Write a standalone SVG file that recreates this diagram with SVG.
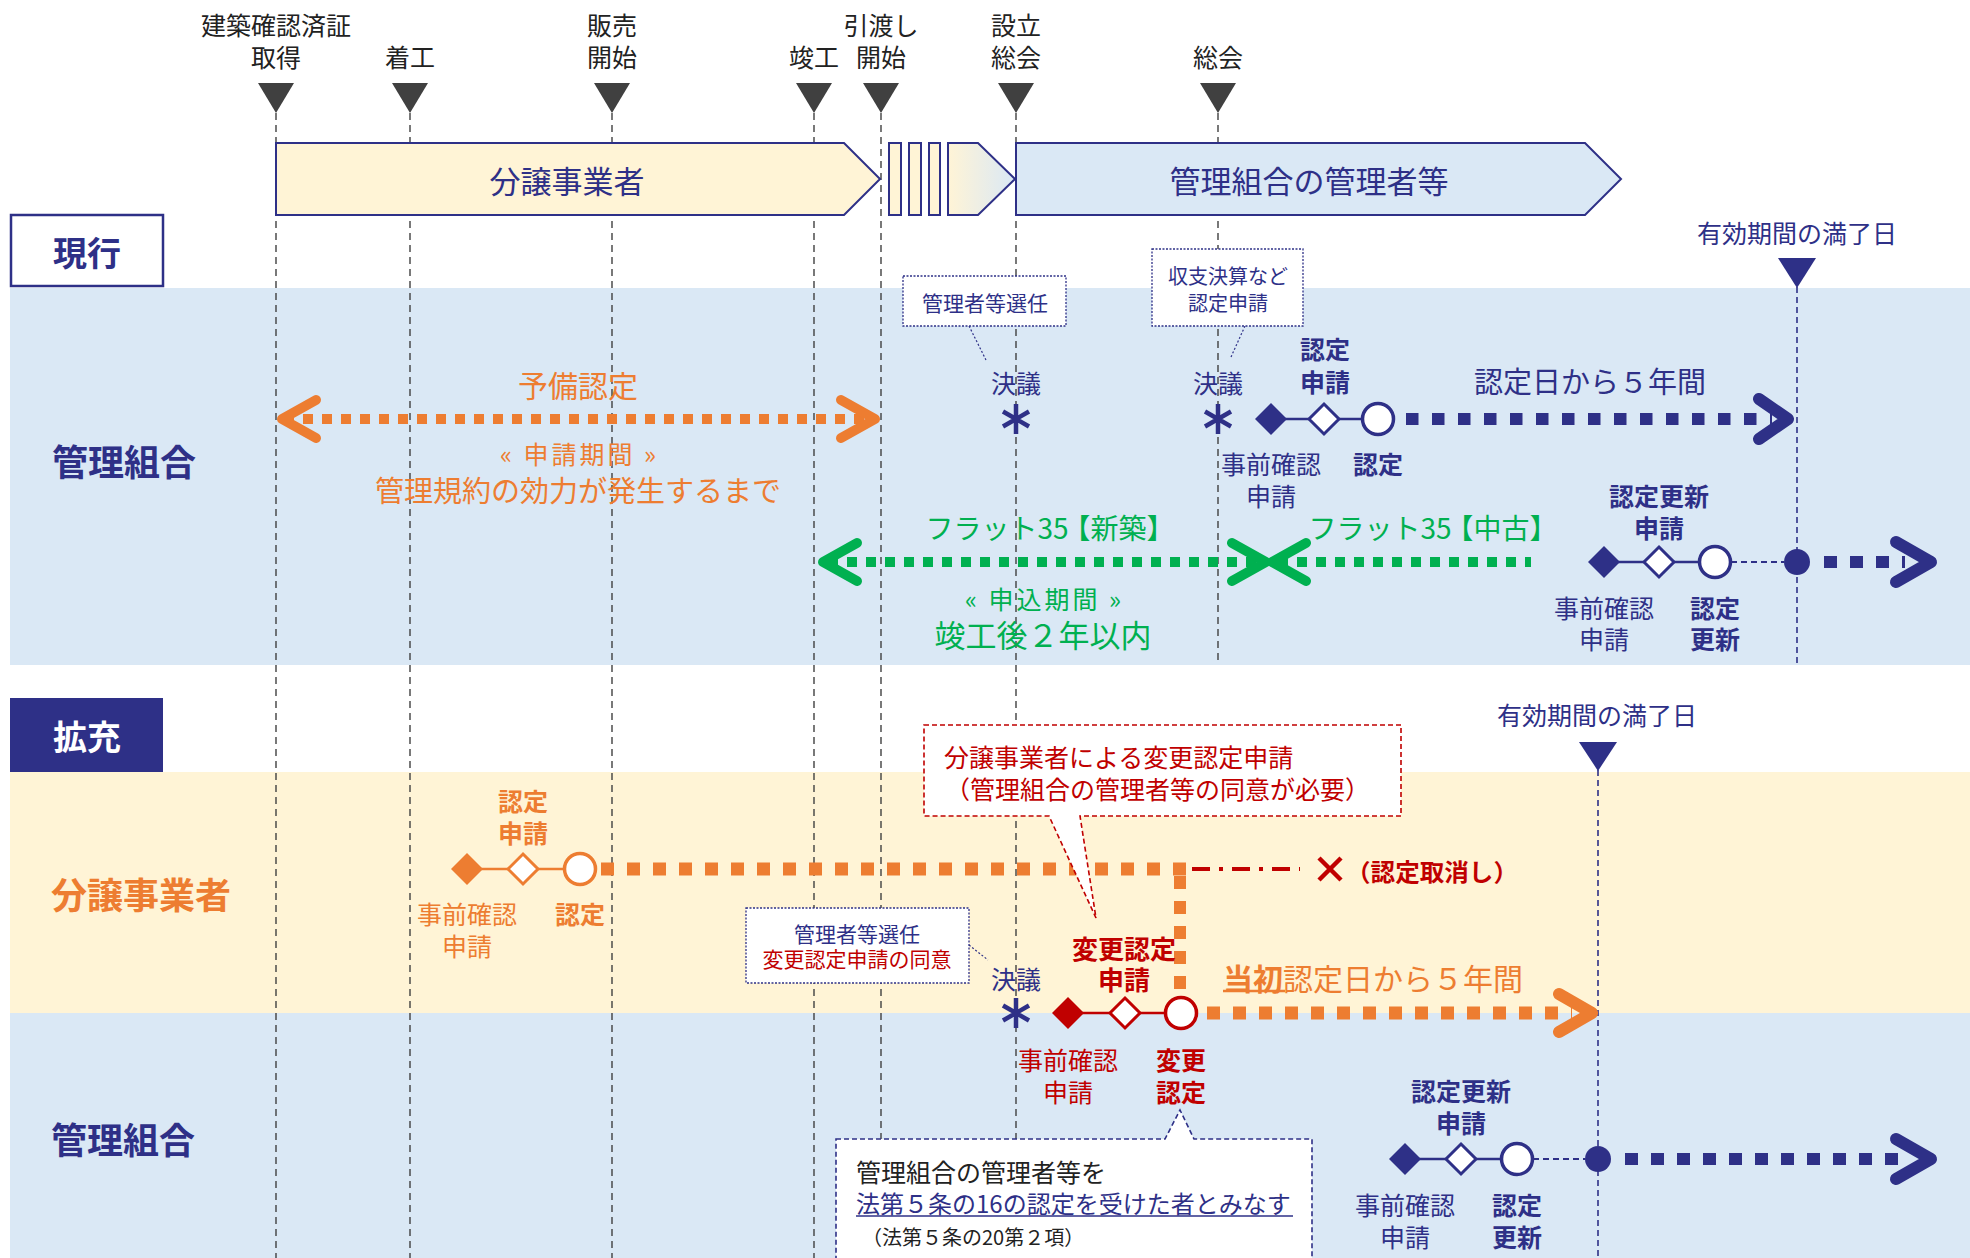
<svg xmlns="http://www.w3.org/2000/svg" width="1970" height="1258" viewBox="0 0 1970 1258">
<defs>
<linearGradient id="fade" x1="0" y1="0" x2="1" y2="0">
<stop offset="0" stop-color="#FFF4D6"/>
<stop offset="1" stop-color="#DAE8F5"/>
</linearGradient>
<style>
text{font-family:"Noto Sans CJK JP","Noto Sans",sans-serif;dominant-baseline:central;text-anchor:middle}
.b{font-weight:bold}
.k{fill:#222222}
.n{fill:#2E3087}
.o{fill:#ED7D31}
.g{fill:#00B050}
.r{fill:#C00000}
.w{fill:#FFFFFF}
.s{text-anchor:start}
.vl{stroke:#404040;stroke-width:1.4;stroke-dasharray:7 5;fill:none}
.nl{stroke:#2E3087;stroke-width:1.6;stroke-dasharray:6 4;fill:none}
.tri{fill:#404040}
.ntri{fill:#2E3087}
.chev{fill:none;stroke-linecap:round;stroke-linejoin:round}
.ast{stroke:#2E3087;stroke-width:4.5;stroke-linecap:butt}
.dotbox{fill:#FFFFFF;stroke:#2E3087;stroke-width:1.3;stroke-dasharray:2 1.5}
.lead{stroke:#2E3087;stroke-width:1.2;stroke-dasharray:2 2;fill:none}
</style>
</defs>

<!-- backgrounds -->
<g id="bands">
<rect x="10" y="288" width="1960" height="377" fill="#DAE8F5"/>
<rect x="10" y="772" width="1960" height="241" fill="#FFF4D6"/>
<rect x="10" y="1013" width="1960" height="245" fill="#DAE8F5"/>
</g>

<!-- milestone guides -->
<g id="milestones">
<line class="vl" x1="276" y1="113" x2="276" y2="1258"/>
<line class="vl" x1="410" y1="113" x2="410" y2="1258"/>
<line class="vl" x1="612" y1="113" x2="612" y2="1258"/>
<line class="vl" x1="814" y1="113" x2="814" y2="1258"/>
<line class="vl" x1="881" y1="113" x2="881" y2="1258"/>
<line class="vl" x1="1016" y1="113" x2="1016" y2="1258"/>
<line class="vl" x1="1218" y1="113" x2="1218" y2="665"/>
<polygon class="tri" points="258,83 294,83 276,113"/>
<polygon class="tri" points="392,83 428,83 410,113"/>
<polygon class="tri" points="594,83 630,83 612,113"/>
<polygon class="tri" points="796,83 832,83 814,113"/>
<polygon class="tri" points="863,83 899,83 881,113"/>
<polygon class="tri" points="998,83 1034,83 1016,113"/>
<polygon class="tri" points="1200,83 1236,83 1218,113"/>
<text class="k" x="276" y="24" font-size="25">建築確認済証</text>
<text class="k" x="276" y="56" font-size="25">取得</text>
<text class="k" x="410" y="56" font-size="25">着工</text>
<text class="k" x="612" y="24" font-size="25">販売</text>
<text class="k" x="612" y="56" font-size="25">開始</text>
<text class="k" x="814" y="56" font-size="25">竣工</text>
<text class="k" x="881" y="24" font-size="25">引渡し</text>
<text class="k" x="881" y="56" font-size="25">開始</text>
<text class="k" x="1016" y="24" font-size="25">設立</text>
<text class="k" x="1016" y="56" font-size="25">総会</text>
<text class="k" x="1218" y="56" font-size="25">総会</text>
</g>

<!-- expiry markers -->
<g id="expiry1">
<line class="nl" x1="1797" y1="287" x2="1797" y2="665"/>
<polygon class="ntri" points="1778,258 1816,258 1797,288"/>
<text class="n" x="1797" y="232" font-size="25">有効期間の満了日</text>
</g>
<g id="expiry2">
<line class="nl" x1="1598" y1="770" x2="1598" y2="1258"/>
<polygon class="ntri" points="1579,742 1617,742 1598,771"/>
<text class="n" x="1597" y="714" font-size="25">有効期間の満了日</text>
</g>

<!-- top phase bar -->
<g id="phase-developer">
<polygon points="276,143 844,143 880,179 844,215 276,215" fill="#FFF4D6" stroke="#2E3087" stroke-width="2"/>
<text class="n" x="567" y="179" font-size="31">分譲事業者</text>
</g>
<g id="phase-transition">
<rect x="889" y="143" width="12" height="72" fill="#FFF4D6" stroke="#2E3087" stroke-width="2"/>
<rect x="909" y="143" width="12" height="72" fill="#FFF4D6" stroke="#2E3087" stroke-width="2"/>
<rect x="929" y="143" width="11" height="72" fill="#FFF4D6" stroke="#2E3087" stroke-width="2"/>
<polygon points="948,143 978,143 1015,179 978,215 948,215" fill="url(#fade)" stroke="#2E3087" stroke-width="2"/>
</g>
<g id="phase-association">
<polygon points="1016,143 1585,143 1621,179 1585,215 1016,215" fill="#DAE8F5" stroke="#2E3087" stroke-width="2"/>
<text class="n" x="1309" y="179" font-size="31">管理組合の管理者等</text>
</g>

<!-- section labels -->
<g id="label-current">
<rect x="11" y="215" width="152" height="71" fill="#FFFFFF" stroke="#2E3087" stroke-width="2.5"/>
<text class="n b" x="87" y="251" font-size="34">現行</text>
</g>
<g id="label-expansion">
<rect x="10" y="698" width="153" height="74" fill="#2E3087"/>
<text class="w b" x="87" y="735" font-size="34">拡充</text>
</g>
<g id="row-labels">
<text class="n b" x="124" y="460" font-size="36">管理組合</text>
<text class="o b" x="141" y="893" font-size="36">分譲事業者</text>
<text class="n b" x="123" y="1138" font-size="36">管理組合</text>
</g>

<!-- connectors -->
<g id="connectors">
<line x1="284" y1="419" x2="870" y2="419" stroke="#ED7D31" stroke-width="10" stroke-dasharray="10 9"/>
<polyline class="chev" points="316,400 282,419 316,438" stroke="#ED7D31" stroke-width="10"/>
<polyline class="chev" points="841,400 875,419 841,438" stroke="#ED7D31" stroke-width="10"/>
<line x1="828" y1="562" x2="1262" y2="562" stroke="#00B050" stroke-width="10" stroke-dasharray="10 9"/>
<line x1="1278" y1="562" x2="1531" y2="562" stroke="#00B050" stroke-width="10" stroke-dasharray="10 9"/>
<polyline class="chev" points="857,543 823,562 857,581" stroke="#00B050" stroke-width="10"/>
<polyline class="chev" points="1232,543 1266,562 1232,581" stroke="#00B050" stroke-width="10"/>
<polyline class="chev" points="1306,543 1272,562 1306,581" stroke="#00B050" stroke-width="10"/>
<line x1="1406" y1="419" x2="1772" y2="419" stroke="#2E3087" stroke-width="12" stroke-dasharray="12.5 13.5"/>
<polyline class="chev" points="1759,399 1788,419 1759,439" stroke="#2E3087" stroke-width="12"/>
<line x1="1731" y1="562" x2="1784" y2="562" stroke="#2E3087" stroke-width="2" stroke-dasharray="6 4"/>
<line x1="1824" y1="562" x2="1905" y2="562" stroke="#2E3087" stroke-width="12" stroke-dasharray="13 13"/>
<polyline class="chev" points="1896,542 1931,562 1896,582" stroke="#2E3087" stroke-width="12"/>
<line x1="601" y1="869" x2="1187" y2="869" stroke="#ED7D31" stroke-width="13" stroke-dasharray="13 13"/>
<line x1="1180" y1="876" x2="1180" y2="997" stroke="#ED7D31" stroke-width="12" stroke-dasharray="13 12"/>
<line x1="1192" y1="869" x2="1300" y2="869" stroke="#C00000" stroke-width="4" stroke-dasharray="18 9 4 9"/>
<path d="M1319,858 L1341,880 M1341,858 L1319,880" stroke="#C00000" stroke-width="4.5"/>
<line x1="1207" y1="1013" x2="1572" y2="1013" stroke="#ED7D31" stroke-width="13" stroke-dasharray="13 13"/>
<polyline class="chev" points="1559,994 1592,1013 1559,1032" stroke="#ED7D31" stroke-width="12"/>
<line x1="1533" y1="1159" x2="1585" y2="1159" stroke="#2E3087" stroke-width="2" stroke-dasharray="6 4"/>
<line x1="1625" y1="1159" x2="1905" y2="1159" stroke="#2E3087" stroke-width="12" stroke-dasharray="13 13"/>
<polyline class="chev" points="1896,1139 1931,1159 1896,1179" stroke="#2E3087" stroke-width="12"/>
<line class="lead" x1="969" y1="326" x2="986" y2="360"/>
<line class="lead" x1="1245" y1="326" x2="1231" y2="357"/>
<line class="lead" x1="969" y1="945" x2="988" y2="960"/>
</g>

<!-- current period texts -->
<g id="preliminary">
<text class="o" x="578" y="384" font-size="30">予備認定</text>
<text class="o" x="578" y="453" font-size="25" textLength="156" lengthAdjust="spacing">« 申請期間 »</text>
<text class="o" x="578" y="489" font-size="29">管理規約の効力が発生するまで</text>
</g>
<g id="flat35">
<text class="g" x="1050" y="527" font-size="28">フラット35<tspan dx="-6">【新築】</tspan></text>
<text class="g" x="1433" y="527" font-size="28">フラット35<tspan dx="-6">【中古】</tspan></text>
<text class="g" x="1043" y="598" font-size="25" textLength="156" lengthAdjust="spacing">« 申込期間 »</text>
<text class="g" x="1043" y="633" font-size="31">竣工後２年以内</text>
</g>

<!-- resolutions -->
<g id="resolution1">
<rect class="dotbox" x="903" y="276" width="163" height="50"/>
<text class="n" x="985" y="302" font-size="21">管理者等選任</text>
<text class="n" x="1016" y="382" font-size="25">決議</text>
<path class="ast" d="M1016,404 V434 M1003,411.5 L1029,426.5 M1029,411.5 L1003,426.5"/>
</g>
<g id="resolution2">
<rect class="dotbox" x="1152" y="249" width="151" height="77"/>
<text class="n" x="1228" y="275" font-size="20">収支決算など</text>
<text class="n" x="1228" y="302" font-size="20">認定申請</text>
<text class="n" x="1218" y="382" font-size="25">決議</text>
<path class="ast" d="M1218,404 V434 M1205,411.5 L1231,426.5 M1231,411.5 L1205,426.5"/>
</g>

<!-- current certification chain -->
<g id="cert-current">
<line x1="1271" y1="419" x2="1362" y2="419" stroke="#2E3087" stroke-width="2.5"/>
<polygon points="1271,403 1287,419 1271,435 1255,419" fill="#2E3087"/>
<polygon points="1324,404 1339,419 1324,434 1309,419" fill="#FFFFFF" stroke="#2E3087" stroke-width="3"/>
<circle cx="1378" cy="419" r="15.5" fill="#FFFFFF" stroke="#2E3087" stroke-width="3.5"/>
<text class="n b" x="1325" y="348" font-size="25">認定</text>
<text class="n b" x="1325" y="381" font-size="25">申請</text>
<text class="n" x="1271" y="463" font-size="25">事前確認</text>
<text class="n" x="1271" y="495" font-size="25">申請</text>
<text class="n b" x="1378" y="463" font-size="25">認定</text>
<text class="n" x="1590" y="380" font-size="29">認定日から５年間</text>
</g>

<!-- current renewal chain -->
<g id="renewal-current">
<line x1="1604" y1="562" x2="1700" y2="562" stroke="#2E3087" stroke-width="2.5"/>
<polygon points="1604,546 1620,562 1604,578 1588,562" fill="#2E3087"/>
<polygon points="1659,547 1674,562 1659,577 1644,562" fill="#FFFFFF" stroke="#2E3087" stroke-width="3"/>
<circle cx="1715" cy="562" r="15.5" fill="#FFFFFF" stroke="#2E3087" stroke-width="3.5"/>
<circle cx="1797" cy="562" r="13" fill="#2E3087"/>
<text class="n b" x="1659" y="495" font-size="25">認定更新</text>
<text class="n b" x="1659" y="527" font-size="25">申請</text>
<text class="n" x="1604" y="607" font-size="25">事前確認</text>
<text class="n" x="1604" y="638" font-size="25">申請</text>
<text class="n b" x="1715" y="607" font-size="25">認定</text>
<text class="n b" x="1715" y="638" font-size="25">更新</text>
</g>

<!-- expansion: developer chain -->
<g id="cert-developer">
<line x1="467" y1="869" x2="565" y2="869" stroke="#ED7D31" stroke-width="2.5"/>
<polygon points="467,853 483,869 467,885 451,869" fill="#ED7D31"/>
<polygon points="523,854 538,869 523,884 508,869" fill="#FFFFFF" stroke="#ED7D31" stroke-width="3"/>
<circle cx="580" cy="869" r="15.5" fill="#FFFFFF" stroke="#ED7D31" stroke-width="3.5"/>
<text class="o b" x="523" y="800" font-size="25">認定</text>
<text class="o b" x="523" y="832" font-size="25">申請</text>
<text class="o" x="467" y="913" font-size="25">事前確認</text>
<text class="o" x="467" y="945" font-size="25">申請</text>
<text class="o b" x="580" y="913" font-size="25">認定</text>
<text class="r b s" x="1346" y="870" font-size="24" textLength="172" lengthAdjust="spacingAndGlyphs">（認定取消し）</text>
</g>

<!-- red callout -->
<g id="callout-change">
<path d="M924,725 H1401 V816 H1080 L1096,918 L1049,816 H924 Z" fill="#FFFFFF" stroke="#C00000" stroke-width="1.6" stroke-dasharray="5 3"/>
<text class="r s" x="944" y="756" font-size="25">分譲事業者による変更認定申請</text>
<text class="r s" x="945" y="788" font-size="25">（管理組合の管理者等の同意が必要）</text>
</g>

<!-- expansion resolution -->
<g id="resolution3">
<rect class="dotbox" x="746" y="908" width="223" height="75"/>
<text class="n" x="857" y="933" font-size="21">管理者等選任</text>
<text class="r" x="857" y="958" font-size="21">変更認定申請の同意</text>
<text class="n" x="1016" y="978" font-size="25">決議</text>
<path class="ast" d="M1016,998 V1028 M1003,1005.5 L1029,1020.5 M1029,1005.5 L1003,1020.5"/>
</g>

<!-- change certification chain -->
<g id="cert-change">
<line x1="1068" y1="1013" x2="1166" y2="1013" stroke="#C00000" stroke-width="2.5"/>
<polygon points="1068,997 1084,1013 1068,1029 1052,1013" fill="#C00000"/>
<polygon points="1125,998 1140,1013 1125,1028 1110,1013" fill="#FFFFFF" stroke="#C00000" stroke-width="3"/>
<circle cx="1181" cy="1013" r="15.5" fill="#FFFFFF" stroke="#C00000" stroke-width="3.5"/>
<text class="r b" x="1124" y="947" font-size="26">変更認定</text>
<text class="r b" x="1124" y="978" font-size="26">申請</text>
<text class="r" x="1068" y="1059" font-size="25">事前確認</text>
<text class="r" x="1068" y="1091" font-size="25">申請</text>
<text class="r b" x="1181" y="1059" font-size="25">変更</text>
<text class="r b" x="1181" y="1091" font-size="25">認定</text>
<text class="s" x="1223" y="977" font-size="30"><tspan class="o b">当初</tspan><tspan class="o">認定日から５年間</tspan></text>
<line x1="1223" y1="991" x2="1285" y2="991" stroke="#ED7D31" stroke-width="2.5"/>
</g>

<!-- blue callout -->
<g id="callout-deemed">
<path d="M836,1139 H1165 L1180,1110 L1194,1139 H1312 V1262 H836 Z" fill="#FFFFFF" stroke="#2E3087" stroke-width="1.6" stroke-dasharray="5 3"/>
<text class="k s" x="856" y="1171" font-size="25">管理組合の管理者等を</text>
<text class="n s" x="856" y="1202" font-size="24">法第５条の16の認定を受けた者とみなす</text>
<line x1="856" y1="1216" x2="1293" y2="1216" stroke="#2E3087" stroke-width="1.5"/>
<text class="k s" x="862" y="1236" font-size="20">（法第５条の20第２項）</text>
</g>

<!-- expansion renewal chain -->
<g id="renewal-expansion">
<line x1="1405" y1="1159" x2="1502" y2="1159" stroke="#2E3087" stroke-width="2.5"/>
<polygon points="1405,1143 1421,1159 1405,1175 1389,1159" fill="#2E3087"/>
<polygon points="1461,1144 1476,1159 1461,1174 1446,1159" fill="#FFFFFF" stroke="#2E3087" stroke-width="3"/>
<circle cx="1517" cy="1159" r="15.5" fill="#FFFFFF" stroke="#2E3087" stroke-width="3.5"/>
<circle cx="1598" cy="1159" r="13" fill="#2E3087"/>
<text class="n b" x="1461" y="1090" font-size="25">認定更新</text>
<text class="n b" x="1461" y="1122" font-size="25">申請</text>
<text class="n" x="1405" y="1204" font-size="25">事前確認</text>
<text class="n" x="1405" y="1236" font-size="25">申請</text>
<text class="n b" x="1517" y="1204" font-size="25">認定</text>
<text class="n b" x="1517" y="1236" font-size="25">更新</text>
</g>
</svg>
